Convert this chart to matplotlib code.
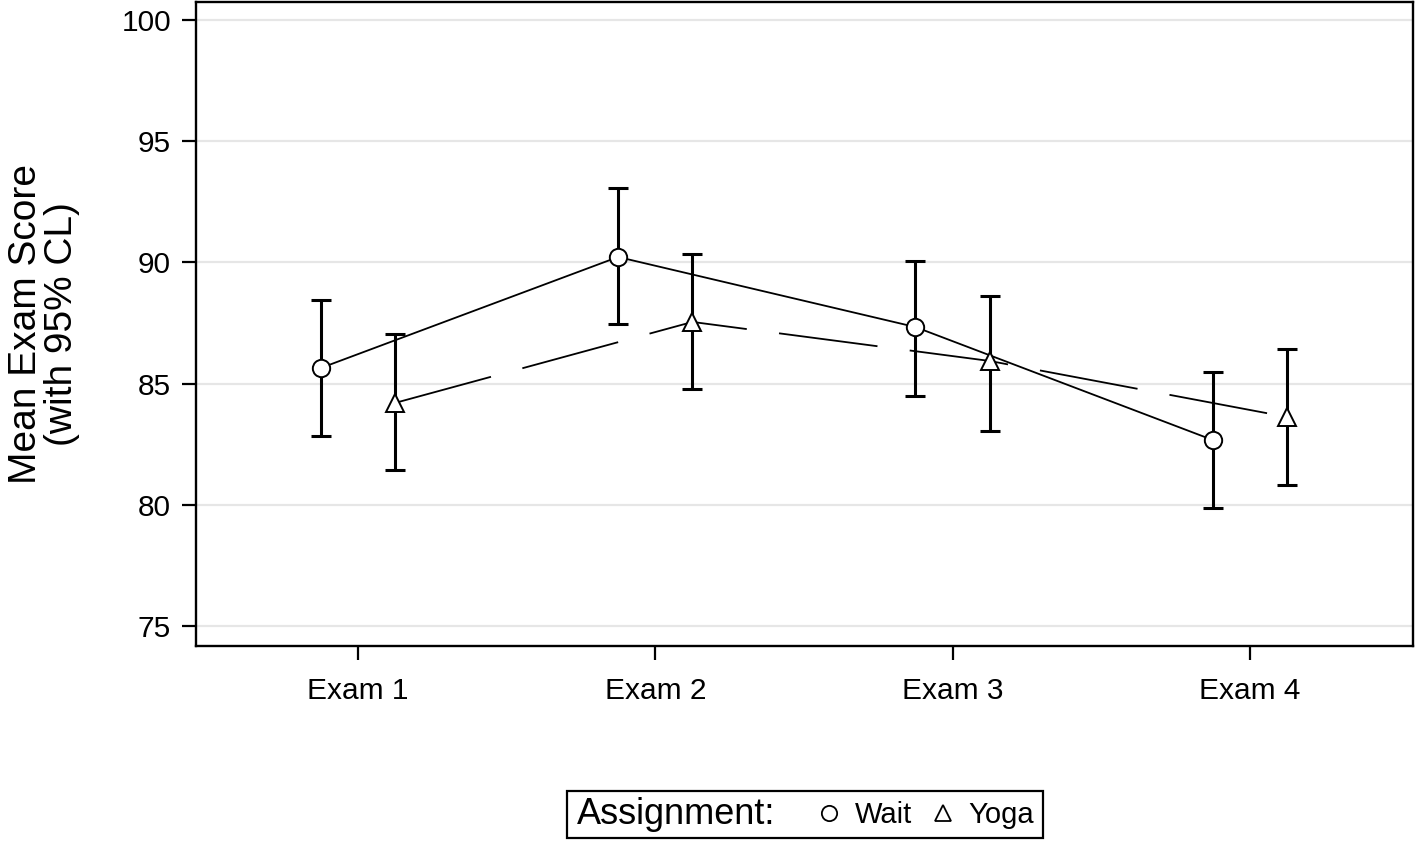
import numpy as np
import matplotlib
matplotlib.use("Agg")
from matplotlib import pyplot as plt
from matplotlib.lines import Line2D
from matplotlib.patches import Rectangle

plt.rcParams['font.family'] = ['Liberation Sans', 'DejaVu Sans']

exams = ["Exam 1", "Exam 2", "Exam 3", "Exam 4"]

# mean and 95% CL for each group
wait_mean = [85.64, 90.22, 87.33, 82.67]
wait_lo = [82.84, 87.46, 84.49, 79.87]
wait_hi = [88.45, 93.07, 90.06, 85.48]

yoga_mean = [84.20, 87.54, 85.93, 83.62]
yoga_lo = [81.44, 84.78, 83.04, 80.82]
yoga_hi = [87.05, 90.35, 88.61, 86.43]

W, H = 1416, 841
fig = plt.figure(figsize=(W/100, H/100), dpi=100)
ax = fig.add_axes([196/W, 1-646/H, (1413-196)/W, (646-2)/H])

x = np.arange(len(exams))
off = 0.125

def draw(xpos, mean, lo, hi, marker, ls, ms):
    mean = np.array(mean)
    err = [mean - np.array(lo), np.array(hi) - mean]
    ax.errorbar(xpos, mean, yerr=err, fmt='none', ecolor='black',
                elinewidth=2.2, capsize=7.5, capthick=2.2, zorder=2)
    ax.plot(xpos, mean, color='black', lw=1.3, linestyle=ls, zorder=3)
    ax.plot(xpos, mean, linestyle='none', marker=marker, ms=ms,
            mfc='white', mec='black', mew=1.4, zorder=4)

draw(x - off, wait_mean, wait_lo, wait_hi, 'o', '-', 12.5)
draw(x + off, yoga_mean, yoga_lo, yoga_hi, '^', (0, (55, 18)), 12.5)

ax.set_xlim(-0.545, 3.549)
ax.set_ylim(74.17, 100.74)
ax.set_yticks([75, 80, 85, 90, 95, 100])
ax.set_xticks(x)
ax.set_xticklabels(exams)
ax.yaxis.grid(True, color='#e6e6e6', lw=1.6, zorder=0)
ax.set_axisbelow(True)
for s in ax.spines.values():
    s.set_linewidth(1.7)
ax.tick_params(axis='both', labelsize=21.5, width=1.6, length=10, direction='out')
ax.tick_params(axis='x', pad=12)
ax.tick_params(axis='y', pad=8)
ax.set_ylabel("Mean Exam Score\n(with 95% CL)", fontsize=28, labelpad=30, linespacing=1.0)

# legend box: "Assignment:" then the markers
fig.add_artist(Rectangle((567/W, 1-838/H), 476/W, 47/H, transform=fig.transFigure,
                         fill=False, edgecolor='black', lw=1.6))
fig.text(577/W, 1-815/H, "Assignment:", fontsize=26, va='center', ha='left')
handles = [Line2D([], [], linestyle='none', marker='o', ms=11, mfc='white', mec='black', mew=1.3),
           Line2D([], [], linestyle='none', marker='^', ms=11, mfc='white', mec='black', mew=1.3)]
fig.legend(handles, ["Wait", "Yoga"], ncol=2, loc='center left',
           bbox_to_anchor=(821/W, 1-815/H), fontsize=21, frameon=False,
           handlelength=0.55, handletextpad=0.6, columnspacing=0.8, borderpad=0,
           borderaxespad=0)

fig.savefig("out.png", dpi=100)
